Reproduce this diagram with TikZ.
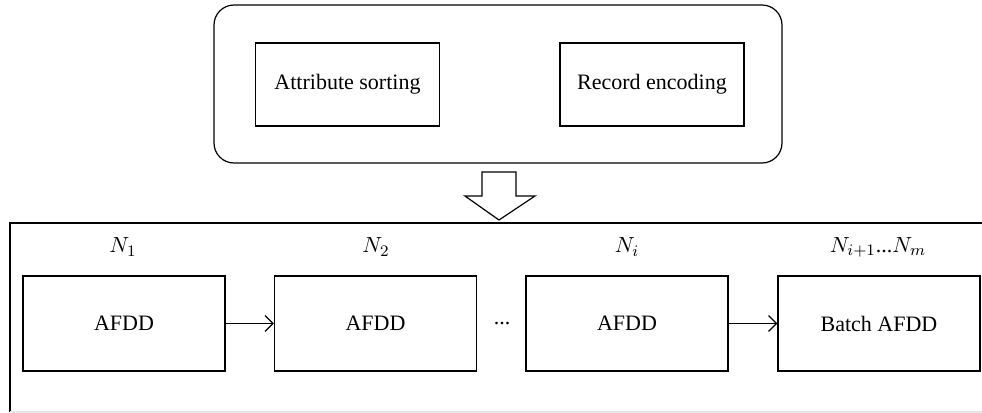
\documentclass[tikz,border=0pt]{standalone}
\usepackage{amsmath}
\usepackage{fontspec}
\setmainfont{Liberation Serif}
\usetikzlibrary{arrows.meta}

\tikzset{
  every node/.style={font=\fontsize{11}{13}\selectfont},
  stage/.style={draw, line width=0.6pt, minimum width=92pt, minimum height=41.5pt},
  afdd/.style={draw, line width=0.6pt, minimum width=101pt, minimum height=47.5pt},
  link/.style={line width=0.6pt, -{Straight Barb[length=4pt, width=8pt]}}
}

\begin{document}
\begin{tikzpicture}[x=0.5pt, y=-0.5pt]
  \useasboundingbox (0,0) rectangle (982,413);
  % preprocessing block
  \draw[line width=0.6pt, rounded corners=10pt] (214,5) rectangle (782,163);
  \node[stage] (sort) at (347.5,84.5) {Attribute sorting};
  \node[stage] (code) at (652,84.5) {Record encoding};
  % hollow arrow down
  \draw[line width=0.6pt] (482,172) -- (516,172) -- (516,196) -- (535,196)
    -- (499,220) -- (465,196) -- (482,196) -- cycle;
  % detection frame
  \draw[line width=0.6pt] (982,223) -- (10,223) -- (10,412);
  \draw[gray!20, line width=0.6pt] (10,412) -- (982,412);
  \node (n1) at (123,247) {$N_1$};
  \node (n2) at (376,247) {$N_2$};
  \node (ni) at (627,247) {$N_i$};
  \node (nm) at (878,247) {$N_{i+1}$...$N_m$};
  \node[afdd] (a1) at (124,323.5) {AFDD};
  \node[afdd] (a2) at (375.5,323.5) {AFDD};
  \node (dots) at (502,323.5) {...};
  \node[afdd] (ai) at (627,323.5) {AFDD};
  \node[afdd] (ab) at (879,323.5) {Batch AFDD};
  \draw[link] (a1) -- (a2);
  \draw[link] (ai) -- (ab);
\end{tikzpicture}
\end{document}
